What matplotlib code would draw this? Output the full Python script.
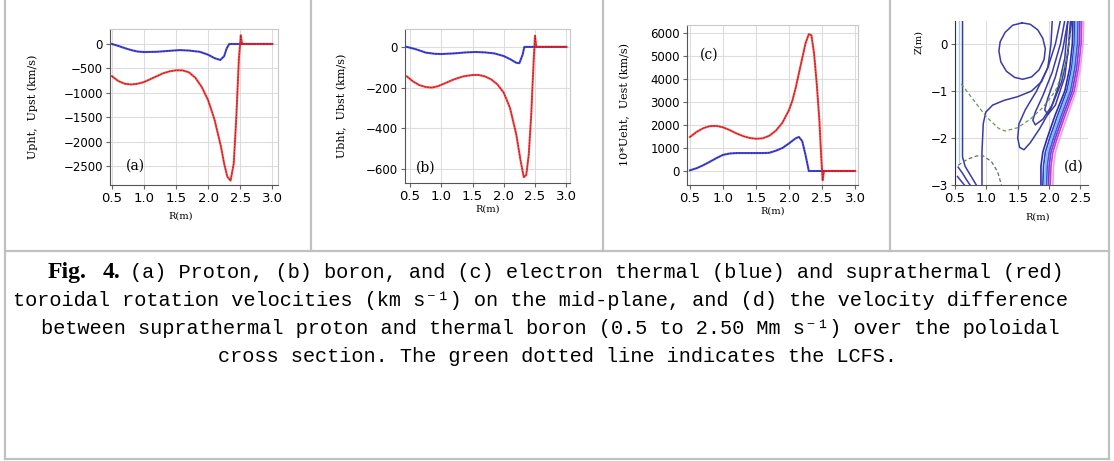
import matplotlib.pyplot as plt

W, H = 1114, 461

# ---- panel (a): proton ----
a_R_th = [0.5, 0.6, 0.7, 0.8, 0.9, 1.0, 1.2, 1.4, 1.56, 1.7, 1.87, 2.0, 2.1, 2.19, 2.25, 2.29, 2.33, 3.0]
a_U_th = [0, -40, -85, -125, -155, -165, -160, -140, -125, -135, -160, -220, -290, -328, -250, -90, 0, 0]
a_R_st = [0.5, 0.6, 0.7, 0.8, 0.9, 1.0, 1.1, 1.2, 1.3, 1.4, 1.5, 1.6, 1.7, 1.8, 1.9, 2.0,
          2.1, 2.2, 2.25, 2.3, 2.35, 2.4, 2.44, 2.48, 2.51, 2.53, 3.0]
a_U_st = [-660, -760, -815, -830, -815, -780, -720, -660, -600, -560, -540, -540, -580, -690, -880, -1150,
          -1550, -2100, -2450, -2720, -2800, -2450, -1500, -300, 180, 0, 0]

# ---- panel (b): boron ----
b_R_th = [0.45, 0.6, 0.75, 0.9, 1.0, 1.2, 1.4, 1.55, 1.7, 1.85, 2.0, 2.1, 2.2, 2.25, 2.3, 2.33, 3.0]
b_U_th = [0, -12, -28, -34, -35, -32, -27, -25, -27, -32, -45, -60, -78, -80, -40, 0, 0]
b_R_st = [0.45, 0.55, 0.65, 0.75, 0.85, 0.95, 1.05, 1.2, 1.35, 1.5, 1.6, 1.7, 1.8, 1.9, 2.0,
          2.1, 2.2, 2.27, 2.32, 2.36, 2.4, 2.44, 2.48, 2.5, 2.52, 3.0]
b_U_st = [-145, -170, -188, -197, -200, -193, -180, -160, -145, -138, -138, -145, -160, -185, -225,
          -300, -430, -560, -640, -630, -530, -330, -60, 55, 0, 0]

# ---- panel (c): electron ----
c_R_th = [0.5, 0.6, 0.7, 0.8, 0.9, 1.0, 1.1, 1.2, 1.4, 1.6, 1.7, 1.8, 1.9, 2.0, 2.1, 2.15, 2.2, 2.25, 2.3, 3.0]
c_U_th = [30, 120, 250, 400, 560, 700, 760, 780, 780, 780, 790, 880, 1000, 1200, 1420, 1480, 1300, 700, 0, 0]
c_R_st = [0.5, 0.6, 0.7, 0.8, 0.9, 1.0, 1.1, 1.2, 1.3, 1.4, 1.5, 1.6, 1.7, 1.8, 1.9, 2.0, 2.05,
          2.1, 2.15, 2.2, 2.25, 2.3, 2.34, 2.38, 2.42, 2.46, 2.49, 2.51, 2.53, 3.0]
c_U_st = [1480, 1700, 1860, 1950, 1960, 1900, 1780, 1640, 1520, 1440, 1400, 1420, 1530, 1750, 2100, 2650, 3050,
          3600, 4250, 4900, 5550, 5950, 5900, 5100, 3800, 2200, 500, -400, 0, 0]

# ---- panel (d): contour paths (R, Z) ----
d_blue = [
    # closed loop around the centre
    ([1.57, 1.42, 1.3, 1.22, 1.2, 1.23, 1.32, 1.45, 1.58, 1.72, 1.84, 1.92, 1.94, 1.9, 1.82, 1.7, 1.57],
     [0.45, 0.4, 0.25, 0.05, -0.15, -0.38, -0.58, -0.71, -0.75, -0.7, -0.55, -0.33, -0.1, 0.12, 0.3, 0.42, 0.45]),
    # outer U that drops to the bottom
    ([2.05, 2.03, 1.98, 1.88, 1.72, 1.5, 1.28, 1.1, 0.99, 0.95, 0.93, 0.93],
     [0.5, 0.0, -0.5, -0.8, -1.0, -1.12, -1.2, -1.3, -1.45, -1.7, -2.3, -3.0]),
    # tongue 1
    ([2.18, 2.1, 1.98, 1.8, 1.62, 1.52, 1.5, 1.53, 1.6, 1.7, 1.85, 2.02, 2.15, 2.25, 2.3],
     [0.5, 0.0, -0.5, -1.0, -1.4, -1.7, -2.0, -2.2, -2.25, -2.1, -1.8, -1.4, -0.9, -0.3, 0.5]),
    # tongue 2
    ([2.25, 2.18, 2.05, 1.9, 1.78, 1.74, 1.78, 1.9, 2.05, 2.2, 2.3, 2.34],
     [0.5, 0.0, -0.6, -1.1, -1.45, -1.62, -1.72, -1.6, -1.3, -0.8, -0.2, 0.5]),
    # tongue 3
    ([2.3, 2.22, 2.1, 1.98, 1.93, 1.98, 2.1, 2.25, 2.36],
     [0.5, -0.1, -0.7, -1.15, -1.4, -1.5, -1.3, -0.7, 0.5]),
    # left edge and lower-left corner
    ([0.62, 0.62, 0.62, 0.66, 0.75, 0.84],
     [0.5, -1.0, -2.4, -2.6, -2.8, -3.0]),
    ([0.55, 0.62, 0.68, 0.74],
     [-2.62, -2.75, -2.88, -3.0]),
    ([0.54, 0.6, 0.65],
     [-2.82, -2.92, -3.0]),
]
d_edge = [
    # dense lines towards the outer edge, inner to outer
    ([2.38, 2.37, 2.33, 2.25, 2.1, 1.97, 1.9, 1.87, 1.87], [0.5, 0.0, -0.5, -1.0, -1.5, -2.0, -2.3, -2.6, -3.0], '#2b2bb8'),
    ([2.41, 2.4, 2.36, 2.28, 2.14, 2.01, 1.94, 1.91, 1.9], [0.5, 0.0, -0.5, -1.0, -1.5, -2.0, -2.3, -2.6, -3.0], '#3b3bd0'),
    ([2.43, 2.42, 2.38, 2.31, 2.17, 2.04, 1.97, 1.94, 1.93], [0.5, 0.0, -0.5, -1.0, -1.5, -2.0, -2.3, -2.6, -3.0], '#60c8e8'),
    ([2.46, 2.45, 2.41, 2.34, 2.2, 2.07, 2.0, 1.97, 1.96], [0.5, 0.0, -0.5, -1.0, -1.5, -2.0, -2.3, -2.6, -3.0], '#5050e0'),
    ([2.49, 2.48, 2.44, 2.37, 2.23, 2.1, 2.03, 2.0, 1.99], [0.5, 0.0, -0.5, -1.0, -1.5, -2.0, -2.3, -2.6, -3.0], '#7a3ad8'),
    ([2.52, 2.51, 2.47, 2.4, 2.26, 2.13, 2.06, 2.03, 2.02], [0.5, 0.0, -0.5, -1.0, -1.5, -2.0, -2.3, -2.6, -3.0], '#c040d0'),
    ([2.55, 2.54, 2.5, 2.43, 2.3, 2.17, 2.1, 2.07, 2.06], [0.5, 0.0, -0.5, -1.0, -1.5, -2.0, -2.3, -2.6, -3.0], '#f0a0e0'),
]
lcfs_R = [0.6, 0.8, 1.0, 1.2, 1.3, 1.5, 1.7, 1.9, 2.1, 2.25, 2.35]
lcfs_Z = [-0.85, -1.2, -1.55, -1.8, -1.85, -1.78, -1.6, -1.35, -1.0, -0.5, 0.3]
arc_R = [0.55, 0.7, 0.85, 0.95, 1.08, 1.18, 1.24]
arc_Z = [-2.58, -2.45, -2.38, -2.38, -2.5, -2.72, -3.0]

caption = [
    "toroidal rotation velocities (km s\u207b\u00b9) on the mid-plane, and (d) the velocity difference",
    "between suprathermal proton and thermal boron (0.5 to 2.50 Mm s\u207b\u00b9) over the poloidal",
    "cross section. The green dotted line indicates the LCFS.",
]
caption_first = "(a) Proton, (b) boron, and (c) electron thermal (blue) and suprathermal (red)"


def px_axes(fig, left, top, right, bottom):
    return fig.add_axes([left / W, 1 - bottom / H, (right - left) / W, (bottom - top) / H])


def style(ax, xlim, ylim, yticks, ylabel, xticks=(0.5, 1.0, 1.5, 2.0, 2.5, 3.0)):
    ax.set_xlim(*xlim)
    ax.set_ylim(*ylim)
    ax.set_xticks(xticks)
    ax.set_yticks(yticks)
    ax.grid(True, color='#dddddd', lw=0.8)
    ax.set_axisbelow(True)
    ax.tick_params(axis='x', labelsize=9.5, length=3, color='#666666', pad=2)
    ax.tick_params(axis='y', labelsize=8.5, length=3, color='#666666', pad=2)
    for s in ['left', 'bottom']:
        ax.spines[s].set_color('#555555')
    for s in ['top', 'right']:
        ax.spines[s].set_color('#c8c8c8')
    ax.set_xlabel('R(m)', family='DejaVu Serif', fontsize=7, labelpad=1)
    ax.set_ylabel(ylabel, family='DejaVu Serif', fontsize=8)


def curve(ax, R, U, color, core):
    ax.plot(R, U, color=color, lw=1.5, alpha=0.85)
    ax.plot(R, U, color=core, lw=0.6, ls=(0, (2, 1.5)), alpha=0.7)


fig = plt.figure(figsize=(W / 100, H / 100), dpi=100)

# frame of the table
bg = fig.add_axes([0, 0, 1, 1], zorder=-5)
bg.set_xlim(0, W)
bg.set_ylim(H, 0)
bg.axis('off')
gc = '#c0c0c0'
bg.plot([5, 5], [0, 459], color=gc, lw=1.6)
bg.plot([1109, 1109], [0, 459], color=gc, lw=1.6)
bg.plot([5, 1109], [459, 459], color=gc, lw=1.6)
bg.plot([5, 1109], [251, 251], color=gc, lw=1.6)
for xv in [311, 603, 890]:
    bg.plot([xv, xv], [0, 251], color=gc, lw=1.6)

# caption
bg.text(48, 272, "Fig.", family='Liberation Serif', weight='bold', fontsize=17, va='center', ha='left')
bg.text(103, 272, "4.", family='Liberation Serif', weight='bold', fontsize=17, va='center', ha='left')
mono = ['Liberation Mono', 'DejaVu Sans Mono']
bg.text(130, 272, caption_first, family=mono, fontsize=14.6, va='center', ha='left')
for (x0, y0), line in zip([(13, 300), (41, 328), (218, 356)], caption):
    bg.text(x0, y0, line, family=mono, fontsize=14.6, va='center', ha='left')

# (a)
ax = px_axes(fig, 110, 29, 278, 185)
curve(ax, a_R_th, a_U_th, '#2a2ae0', '#101050')
curve(ax, a_R_st, a_U_st, '#ff2020', '#6a1010')
style(ax, (0.47, 3.09), (-2890, 307), [0, -500, -1000, -1500, -2000, -2500], 'Upht,  Upst (km/s)')
ax.xaxis.set_label_coords(0.42, -0.17)
ax.yaxis.set_label_coords(-0.43, 0.5)
ax.text(0.72, -2500, '(a)', family='DejaVu Serif', fontsize=10, va='center')

# (b)
ax = px_axes(fig, 405, 29, 570, 183)
curve(ax, b_R_th, b_U_th, '#2a2ae0', '#101050')
curve(ax, b_R_st, b_U_st, '#ff2020', '#6a1010')
style(ax, (0.42, 3.06), (-669, 88), [0, -200, -400, -600], 'Ubht,  Ubst (km/s)')
ax.yaxis.set_label_coords(-0.35, 0.5)
ax.text(0.6, -595, '(b)', family='DejaVu Serif', fontsize=10, va='center')

# (c)
ax = px_axes(fig, 687, 25, 858, 185)
curve(ax, c_R_th, c_U_th, '#2a2ae0', '#101050')
curve(ax, c_R_st, c_U_st, '#ff2020', '#6a1010')
style(ax, (0.455, 3.045), (-609, 6348), [0, 1000, 2000, 3000, 4000, 5000, 6000], '10*Ueht,  Uest (km/s)')
ax.yaxis.set_label_coords(-0.33, 0.5)
ax.text(0.65, 5050, '(c)', family='DejaVu Serif', fontsize=10, va='center')

# (d)
ax = px_axes(fig, 955, 21, 1088, 185)
ax.plot([0.56, 0.56], [0.5, -2.5], color='#9fd0f0', lw=1.0)
for R, Z in d_blue:
    ax.plot(R, Z, color='#3a3aa8', lw=1.1)
for R, Z, col in d_edge:
    ax.plot(R, Z, color=col, lw=1.2)
ax.plot(lcfs_R, lcfs_Z, color='#6a9a50', lw=0.9, ls=(0, (3, 2)))
ax.plot(arc_R, arc_Z, color='#607060', lw=0.9, ls=(0, (3, 2)))
ax.set_xlim(0.5, 2.62)
ax.set_ylim(-3.0, 0.49)
ax.set_xticks([0.5, 1.0, 1.5, 2.0, 2.5])
ax.set_yticks([0, -1, -2, -3])
ax.grid(True, color='#dddddd', lw=0.8)
ax.set_axisbelow(True)
ax.tick_params(axis='x', labelsize=9.5, length=3, color='#666666', pad=2)
ax.tick_params(axis='y', labelsize=8.5, length=3, color='#666666', pad=2)
ax.spines['left'].set_color('#333333')
ax.spines['bottom'].set_color('#555555')
ax.spines['top'].set_visible(False)
ax.spines['right'].set_visible(False)
ax.set_xlabel('R(m)', family='DejaVu Serif', fontsize=7, labelpad=1)
ax.set_ylabel('Z(m)', family='DejaVu Serif', fontsize=7)
ax.xaxis.set_label_coords(0.62, -0.17)
ax.yaxis.set_label_coords(-0.24, 0.87)
ax.text(2.23, -2.6, '(d)', family='DejaVu Serif', fontsize=10, va='center')

fig.savefig('out.png', dpi=100)
